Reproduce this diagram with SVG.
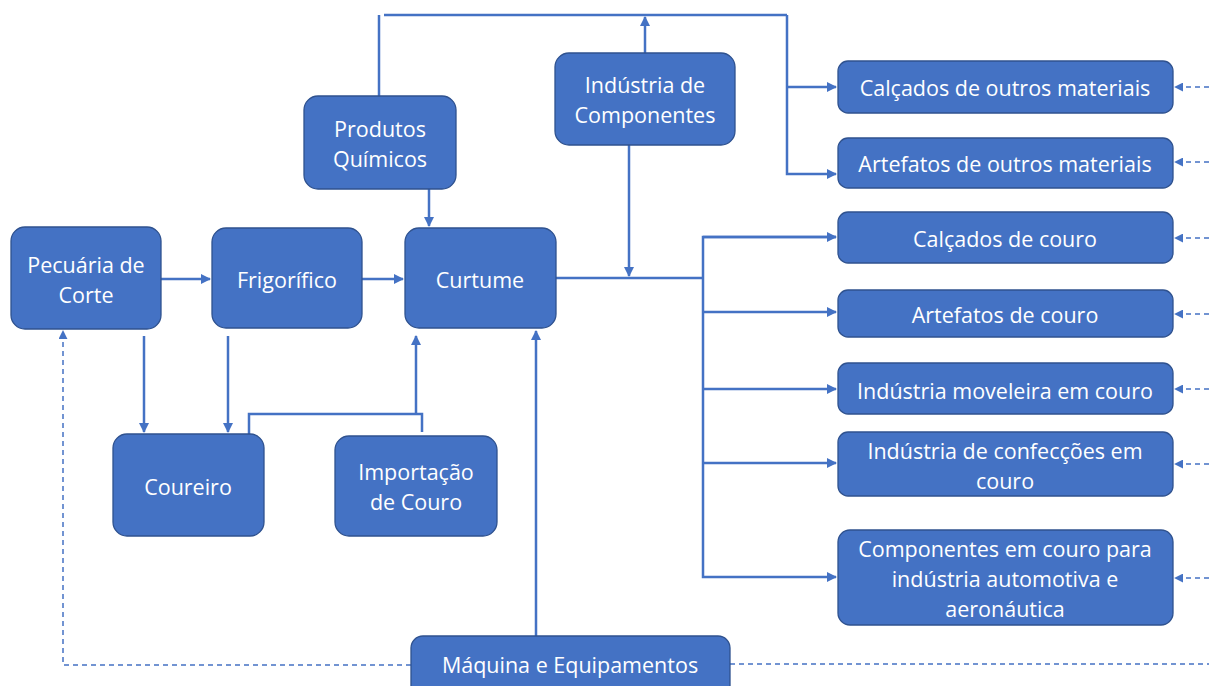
<svg xmlns="http://www.w3.org/2000/svg" width="1209" height="686" viewBox="0 0 1209 686">
  <style>
    .box { fill: #4472C4; stroke: #2F528F; stroke-width: 1.3; }
    .lbl { fill: #ffffff; font-family: "Open Sans", "Liberation Sans", sans-serif; font-size: 21.5px; text-anchor: middle; dominant-baseline: central; }
    .ln { fill: none; stroke: #4472C4; stroke-width: 2.5; }
    .dash { fill: none; stroke: #4472C4; stroke-width: 1.5; stroke-dasharray: 5 4; }
  </style>
  <defs>
    <marker id="arr" viewBox="0 0 10 10" refX="9" refY="5" markerWidth="4" markerHeight="4" orient="auto" markerUnits="strokeWidth">
      <path d="M0,0 L10,5 L0,10 z" fill="#4472C4"/>
    </marker>
    <marker id="arrs" viewBox="0 0 10 10" refX="9" refY="5" markerWidth="6" markerHeight="6" orient="auto" markerUnits="strokeWidth">
      <path d="M0,0 L10,5 L0,10 z" fill="#4472C4"/>
    </marker>
  </defs>

  <g id="connectors">
    <!-- top bus -->
    <polyline class="ln" points="379,96 379,15"/>
    <polyline class="ln" points="384,15 787,15"/>
    <polyline class="ln" points="787,15 787,174 836,174" marker-end="url(#arr)"/>
    <line class="ln" x1="787" y1="87" x2="836" y2="87" marker-end="url(#arr)"/>
    <line class="ln" x1="645" y1="53" x2="645" y2="17" marker-end="url(#arr)"/>
    <line class="ln" x1="629" y1="145" x2="629" y2="276" marker-end="url(#arr)"/>
    <!-- main chain -->
    <line class="ln" x1="161" y1="279" x2="210" y2="279" marker-end="url(#arr)"/>
    <line class="ln" x1="362" y1="279" x2="403" y2="279" marker-end="url(#arr)"/>
    <line class="ln" x1="429" y1="189" x2="429" y2="226" marker-end="url(#arr)"/>
    <!-- Curtume to products -->
    <polyline class="ln" points="556,278 703,278"/>
    <polyline class="ln" points="836,237 703,237 703,577 836,577" marker-end="url(#arr)"/>
    <line class="ln" x1="703" y1="237" x2="836" y2="237" marker-end="url(#arr)"/>
    <line class="ln" x1="703" y1="312" x2="836" y2="312" marker-end="url(#arr)"/>
    <line class="ln" x1="703" y1="389" x2="836" y2="389" marker-end="url(#arr)"/>
    <line class="ln" x1="703" y1="463" x2="836" y2="463" marker-end="url(#arr)"/>
    <!-- hides to Coureiro -->
    <line class="ln" x1="144" y1="336" x2="144" y2="432" marker-end="url(#arr)"/>
    <line class="ln" x1="228" y1="336" x2="228" y2="432" marker-end="url(#arr)"/>
    <!-- Coureiro / Importação to Curtume -->
    <polyline class="ln" points="249,434 249,414 422,414 422,432"/>
    <line class="ln" x1="416" y1="414" x2="416" y2="336" marker-end="url(#arr)"/>
    <!-- machinery -->
    <line class="ln" x1="536" y1="636" x2="536" y2="331" marker-end="url(#arr)"/>
    <polyline class="dash" points="411,665 63,665 63,331" marker-end="url(#arrs)"/>
    <line class="dash" x1="730" y1="664" x2="1209" y2="664"/>
    <!-- incoming dashed arrows -->
    <line class="dash" x1="1209" y1="87" x2="1175" y2="87" marker-end="url(#arrs)"/>
    <line class="dash" x1="1209" y1="162" x2="1175" y2="162" marker-end="url(#arrs)"/>
    <line class="dash" x1="1209" y1="238" x2="1175" y2="238" marker-end="url(#arrs)"/>
    <line class="dash" x1="1209" y1="314" x2="1175" y2="314" marker-end="url(#arrs)"/>
    <line class="dash" x1="1209" y1="389" x2="1175" y2="389" marker-end="url(#arrs)"/>
    <line class="dash" x1="1209" y1="464" x2="1175" y2="464" marker-end="url(#arrs)"/>
    <line class="dash" x1="1209" y1="578" x2="1175" y2="578" marker-end="url(#arrs)"/>
  </g>

  <g id="pecuaria">
    <rect class="box" x="11" y="227" width="150" height="102" rx="14"/>
    <text class="lbl" x="86" y="264">Pecuária de</text>
    <text class="lbl" x="86" y="294">Corte</text>
  </g>
  <g id="frigorifico">
    <rect class="box" x="212" y="228" width="150" height="100" rx="14"/>
    <text class="lbl" x="287" y="279">Frigorífico</text>
  </g>
  <g id="curtume">
    <rect class="box" x="405" y="228" width="151" height="100" rx="14"/>
    <text class="lbl" x="480" y="279">Curtume</text>
  </g>
  <g id="quimicos">
    <rect class="box" x="304" y="96" width="152" height="93" rx="14"/>
    <text class="lbl" x="380" y="128">Produtos</text>
    <text class="lbl" x="380" y="158">Químicos</text>
  </g>
  <g id="componentes">
    <rect class="box" x="555" y="53" width="180" height="92" rx="14"/>
    <text class="lbl" x="645" y="84">Indústria de</text>
    <text class="lbl" x="645" y="114">Componentes</text>
  </g>
  <g id="coureiro">
    <rect class="box" x="113" y="434" width="151" height="102" rx="14"/>
    <text class="lbl" x="188" y="486">Coureiro</text>
  </g>
  <g id="importacao">
    <rect class="box" x="335" y="436" width="162" height="100" rx="14"/>
    <text class="lbl" x="416" y="471">Importação</text>
    <text class="lbl" x="416" y="501">de Couro</text>
  </g>
  <g id="maquinas">
    <rect class="box" x="411" y="636" width="319" height="64" rx="12"/>
    <text class="lbl" x="570" y="664">Máquina e Equipamentos</text>
  </g>

  <g id="calcados-outros">
    <rect class="box" x="838" y="61" width="335" height="52" rx="10"/>
    <text class="lbl" x="1005" y="87">Calçados de outros materiais</text>
  </g>
  <g id="artefatos-outros">
    <rect class="box" x="838" y="138" width="335" height="50" rx="10"/>
    <text class="lbl" x="1005" y="163">Artefatos de outros materiais</text>
  </g>
  <g id="calcados-couro">
    <rect class="box" x="838" y="212" width="335" height="51" rx="10"/>
    <text class="lbl" x="1005" y="238">Calçados de couro</text>
  </g>
  <g id="artefatos-couro">
    <rect class="box" x="838" y="290" width="335" height="47" rx="10"/>
    <text class="lbl" x="1005" y="314">Artefatos de couro</text>
  </g>
  <g id="moveleira">
    <rect class="box" x="838" y="363" width="335" height="51" rx="10"/>
    <text class="lbl" x="1005" y="390">Indústria moveleira em couro</text>
  </g>
  <g id="confeccoes">
    <rect class="box" x="838" y="432" width="335" height="64" rx="10"/>
    <text class="lbl" x="1005" y="450">Indústria de confecções em</text>
    <text class="lbl" x="1005" y="480">couro</text>
  </g>
  <g id="automotiva">
    <rect class="box" x="838" y="530" width="335" height="95" rx="12"/>
    <text class="lbl" x="1005" y="548">Componentes em couro para</text>
    <text class="lbl" x="1005" y="578">indústria automotiva e</text>
    <text class="lbl" x="1005" y="608">aeronáutica</text>
  </g>
</svg>
